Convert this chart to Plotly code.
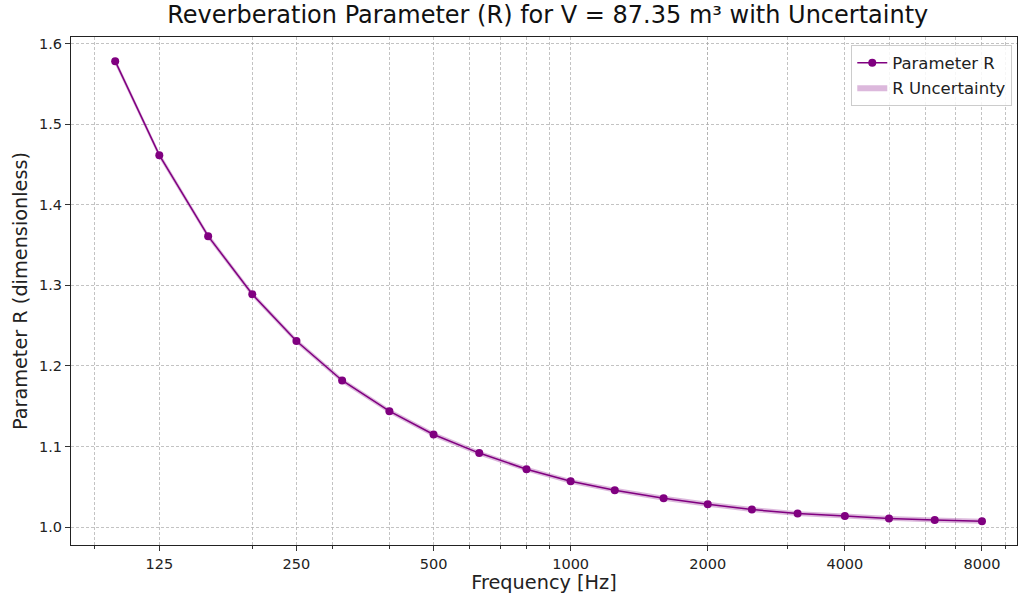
import plotly.graph_objects as go

freqs = [100, 125, 160, 200, 250, 315, 400, 500, 630, 800, 1000, 1250, 1600,
         2000, 2500, 3150, 4000, 5000, 6300, 8000]
r_values = [1.578, 1.4615, 1.361, 1.289, 1.231, 1.182, 1.144, 1.115, 1.092, 1.072,
            1.057, 1.046, 1.036, 1.0285, 1.022, 1.017, 1.014, 1.011, 1.009, 1.0075]
r_uncert = [0.004, 0.004, 0.0035, 0.0033, 0.003, 0.003, 0.003, 0.003, 0.003, 0.003,
            0.003, 0.003, 0.003, 0.003, 0.003, 0.003, 0.003, 0.003, 0.003, 0.003]
major_ticks = [125, 250, 500, 1000, 2000, 4000, 8000]
minor_ticks = [90, 200, 300, 400, 600, 700, 800, 900, 2000, 3000, 5000, 6000, 7000, 9000]
y_ticks = [1.0, 1.1, 1.2, 1.3, 1.4, 1.5, 1.6]

lower = [v - u for v, u in zip(r_values, r_uncert)]
upper = [v + u for v, u in zip(r_values, r_uncert)]

fig = go.Figure()
fig.add_trace(go.Scatter(x=freqs, y=r_values, mode="lines+markers", name="Parameter R",
                         line=dict(color="#800080", width=1.5),
                         marker=dict(color="#800080", size=8)))
fig.add_trace(go.Scatter(x=freqs, y=lower, mode="lines", line=dict(width=0, color="rgba(128,0,128,0)"),
                         showlegend=False, hoverinfo="skip"))
fig.add_trace(go.Scatter(x=freqs, y=upper, mode="lines", line=dict(width=0, color="rgba(128,0,128,0)"),
                         fill="tonexty", fillcolor="rgba(128,0,128,0.28)",
                         name="R Uncertainty"))

grid = "rgba(175,175,175,0.75)"
gdash = "3px,2px"
fig.update_layout(
    width=1019, height=596,
    margin=dict(l=71, r=2, t=37, b=51),
    paper_bgcolor="white", plot_bgcolor="white",
    font=dict(family="DejaVu Sans", size=14.5, color="#222"),
    title=dict(text="Reverberation Parameter (R) for V = 87.35 m³ with Uncertainty",
               xref="paper", x=0.504, xanchor="center", y=0.99, yanchor="top",
               font=dict(size=24, color="#111")),
    xaxis=dict(type="log", range=[1.903, 3.98],
               tickmode="array", tickvals=major_ticks, ticktext=[str(t) for t in major_ticks],
               showgrid=True, gridcolor=grid, griddash=gdash, gridwidth=1,
               ticks="outside", ticklen=5, tickcolor="#333",
               showline=True, linecolor="#222", linewidth=1.2, mirror=True,
               zeroline=False,
               minor=dict(tickmode="array", tickvals=minor_ticks, showgrid=True,
                          gridcolor=grid, griddash=gdash, gridwidth=1,
                          ticks="outside", ticklen=3, tickcolor="#333"),
               title=dict(text="Frequency [Hz]", font=dict(size=19.3), standoff=3)),
    yaxis=dict(range=[0.978, 1.608], tickmode="array", tickvals=y_ticks,
               ticktext=[f"{t:.1f}" for t in y_ticks],
               showgrid=True, gridcolor=grid, griddash=gdash, gridwidth=1,
               ticks="outside", ticklen=5, tickcolor="#333",
               showline=True, linecolor="#222", linewidth=1.2, mirror=True,
               zeroline=False,
               title=dict(text="Parameter R (dimensionless)", font=dict(size=19.3), standoff=6)),
    legend=dict(x=0.995, y=0.985, xanchor="right", yanchor="top", traceorder="normal",
                bgcolor="rgba(255,255,255,0.85)", bordercolor="#ccc", borderwidth=1,
                font=dict(size=16.5)),
)

fig.write_html("out.html")
